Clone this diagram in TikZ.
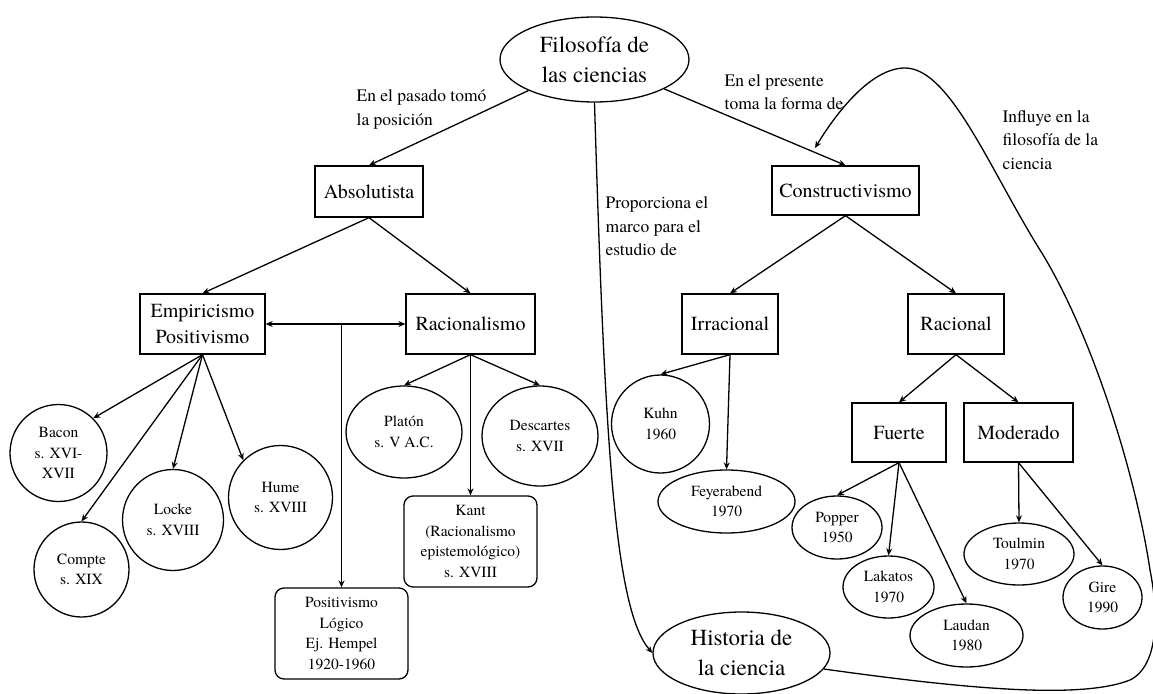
\documentclass[tikz,border=0pt]{standalone}
\usepackage{fontspec}
\IfFontExistsTF{texgyretermes-regular.otf}{\setmainfont{texgyretermes}[Extension=.otf,UprightFont=*-regular,BoldFont=*-bold,ItalicFont=*-italic,BoldItalicFont=*-bolditalic]}{\setmainfont{Liberation Serif}}
\usetikzlibrary{shapes.geometric,arrows.meta}
\begin{document}
\begin{tikzpicture}[x=1pt,y=-1pt,
  line width=1.3pt,
  arr/.style={-{Stealth[length=7pt,width=6pt]}},
  darr/.style={{Stealth[length=7pt,width=6pt]}-{Stealth[length=7pt,width=6pt]}},
  bigtext/.style={font=\fontsize{23}{30}\selectfont},
  boxtext/.style={font=\fontsize{20}{26}\selectfont},
  smalltext/.style={font=\fontsize{15.5}{20.5}\selectfont},
  lbl/.style={font=\fontsize{17.5}{23.5}\selectfont, align=left, anchor=west, inner sep=0pt},
  sq/.style={draw, rectangle, inner sep=0pt, align=center, boxtext},
  rsq/.style={draw, rectangle, rounded corners=9pt, inner sep=0pt, align=center, smalltext},
  ell/.style={draw, ellipse, inner sep=0pt, align=center, smalltext},
  circ/.style={draw, circle, inner sep=0pt, align=center, smalltext},
]
\useasboundingbox (0,0) rectangle (1153,693);

% top
\node[ell, bigtext, minimum width=189pt, minimum height=85pt] (fil) at (594.5,59.5) {Filosofía de\\las ciencias};

% left branch
\node[sq, minimum width=108pt, minimum height=51pt] (abs) at (369,191.5) {Absolutista};
\node[sq, minimum width=125pt, minimum height=60pt] (emp) at (202.5,324) {Empiricismo\\Positivismo};
\node[sq, minimum width=129pt, minimum height=60pt] (rac) at (470.5,324) {Racionalismo};
\node[circ, minimum size=97pt] (bacon) at (58.5,453) {Bacon\\s. XVI-\\XVII};
\node[circ, minimum size=95pt] (compte) at (81.5,569.5) {Compte\\s. XIX};
\node[circ, minimum size=101pt] (locke) at (173,520) {Locke\\s. XVIII};
\node[circ, minimum size=104pt] (hume) at (280.5,497.5) {Hume\\s. XVIII};
\node[rsq, minimum width=133pt, minimum height=91pt] (pos) at (341.5,633.5) {Positivismo\\Lógico\\Ej. Hempel\\1920-1960};
\node[ell, minimum width=116pt, minimum height=92pt] (pla) at (404,432) {Platón\\s. V A.C.};
\node[ell, minimum width=116pt, minimum height=100pt] (des) at (540,436) {Descartes\\s. XVII};
\node[rsq, minimum width=133pt, minimum height=91pt] (kant) at (470.5,541.5) {Kant\\(Racionalismo\\epistemológico)\\s. XVIII};

% right branch
\node[sq, minimum width=147pt, minimum height=49pt] (con) at (845.5,190.5) {Constructivismo};
\node[sq, minimum width=96pt, minimum height=60pt] (irr) at (730,324) {Irracional};
\node[sq, minimum width=96pt, minimum height=60pt] (racl) at (956,324) {Racional};
\node[circ, minimum size=98pt] (kuhn) at (660.5,424) {Kuhn\\1960};
\node[ell, minimum width=137pt, minimum height=63pt] (fey) at (726.5,501.5) {Feyerabend\\1970};
\node[sq, minimum width=94pt, minimum height=59pt] (fue) at (899,432.5) {Fuerte};
\node[sq, minimum width=109pt, minimum height=59pt] (mod) at (1018.5,432.5) {Moderado};
\node[ell, minimum width=90pt, minimum height=63pt] (pop) at (837,527.5) {Popper\\1950};
\node[ell, minimum width=91pt, minimum height=62pt] (lak) at (888.5,587) {Lakatos\\1970};
\node[ell, minimum width=113pt, minimum height=63pt] (lau) at (966.5,635.5) {Laudan\\1980};
\node[ell, minimum width=110pt, minimum height=62pt] (tou) at (1019,554) {Toulmin\\1970};
\node[ell, minimum width=79pt, minimum height=63pt] (gir) at (1102.5,597.5) {Gire\\1990};
\node[ell, bigtext, minimum width=177pt, minimum height=82pt] (his) at (741.5,653) {Historia de\\la ciencia};

% labels
\node[lbl] (l1) at (356,109.5) {En el pasado tomó\\la posición};
\node[lbl] (l2) at (724,92) {En el presente\\toma la forma de};
\node[lbl] (l3) at (605,226.5) {Proporciona el\\marco para el\\estudio de};
\node[lbl] (l4) at (1002,140) {Influye en la\\filosofía de la\\ciencia};

% connectors
\draw[arr] (fil) -- (abs.north);
\draw[arr] (fil) -- (con.north);
\draw[arr] (fil.south) .. controls (605,450) and (615,610) .. (his.west);

\draw[arr] (abs.south) -- (emp.north);
\draw[arr] (abs.south) -- (rac.north);
\draw[darr] (emp.east) -- (rac.west);
\coordinate (j) at (pos.north |- emp.east);
\draw[arr] (j) -- (pos.north);
\draw[arr] (emp.south) -- (bacon.45);
\draw[arr] (emp.south) -- (compte.north);
\draw[arr] (emp.south) -- (locke.north);
\draw[arr] (emp.south) -- (hume.135);
\draw[arr] (rac.south) -- (pla.north);
\draw[arr] (rac.south) -- (kant.north);
\draw[arr] (rac.south) -- (des.north);

\draw[arr] (con.south) -- (irr.north);
\draw[arr] (con.south) -- (racl.north);
\draw[arr] (irr.south) -- (kuhn.north);
\draw[arr] (irr.south) -- (fey.north);
\draw[arr] (racl.south) -- (fue.north);
\draw[arr] (racl.south) -- (mod.north);
\draw[arr] (fue.south) -- (pop.north);
\draw[arr] (fue.south) -- (lak.north);
\draw[arr] (fue.south) -- (lau.north);
\draw[arr] (mod.south) -- (tou.north);
\draw[arr] (mod.south) -- (gir.north);

\coordinate (inf) at (815,148);
\draw[arr] (his.-11) .. controls (960,688) and (1080,700) .. (1130,680)
  .. controls (1160,665) and (1158,610) .. (1150,570)
  .. controls (1135,470) and (1090,330) .. (1040,250)
  .. controls (990,170) and (950,68) .. (905,68)
  .. controls (870,68) and (835,115) .. (inf);
\end{tikzpicture}
\end{document}
